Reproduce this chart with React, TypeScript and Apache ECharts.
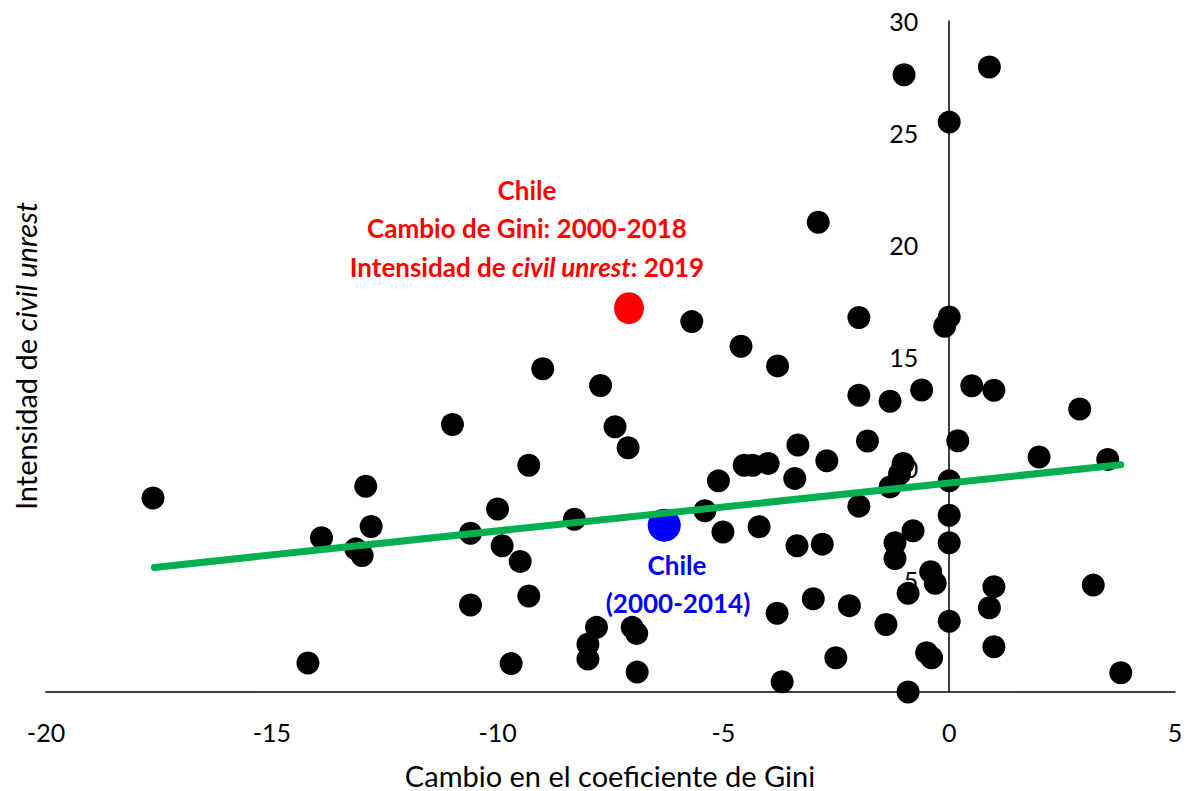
import React, { useEffect, useRef } from "react";
import * as echarts from "echarts";

const xTicks = [-20, -15, -10, -5, 0, 5];
const yTicks = [0, 5, 10, 15, 20, 25, 30];

const countriesX = [
  -17.63, -14.2, -13.9, -13.14, -13.0, -12.92, -12.8, -11.0, -10.6, -10.6,
  -10.0, -9.9, -9.7, -9.5, -9.31, -9.31, -9.0, -8.3, -8.0, -8.0,
  -7.81, -7.72, -7.4, -7.11, -7.02, -6.92, -6.91, -5.7, -5.41, -5.11,
  -5.01, -4.61, -4.54, -4.35, -4.21, -4.01, -3.81, -3.8, -3.7, -3.35,
  -3.42, -3.37, -3.01, -2.9, -2.81, -2.71, -2.51, -2.21, -2.0, -2.0,
  -2.0, -1.81, -1.4, -1.31, -1.31, -1.2, -1.2, -1.02, -1.1, -1.0,
  -0.91, -0.91, -0.8, -0.61, -0.5, -0.41, -0.39, -0.31, -0.1, 0.0,
  0.0, 0.0, 0.0, 0.0, 0.0, 0.19, 0.5, 0.89, 0.89, 0.99,
  0.99, 0.99, 1.99, 2.89, 3.19, 3.51, 3.8,
];
const countriesY = [
  8.67, 1.3, 6.9, 6.4, 6.1, 9.2, 7.4, 11.96, 7.1, 3.89,
  8.18, 6.54, 1.27, 5.84, 10.14, 4.29, 14.45, 7.72, 2.14, 1.47,
  2.89, 13.7, 11.86, 10.92, 2.89, 2.62, 0.89, 16.56, 8.1, 9.44,
  7.15, 15.46, 10.14, 10.14, 7.39, 10.22, 3.52, 14.58, 0.46, 11.04,
  9.55, 6.54, 4.17, 21.0, 6.61, 10.34, 1.53, 3.86, 16.74, 13.27,
  8.31, 11.22, 3.02, 13.0, 9.17, 6.67, 5.97, 10.22, 9.75, 27.6,
  4.41, 0.0, 7.21, 13.5, 1.76, 5.38, 1.53, 4.86, 16.35, 25.48,
  16.77, 9.44, 7.9, 6.67, 3.16, 11.23, 13.69, 27.94, 3.77, 13.49,
  4.71, 2.02, 10.51, 12.65, 4.78, 10.4, 0.86,
];

const chile2019 = [-7.09, 17.16];
const chile2014 = [-6.31, 7.46];

const trendX = [-17.6, 3.8];
const trendY = [5.57, 10.16];

const FONT = "Lato, 'Noto Sans', sans-serif";

const W = 1191;
const H = 791;
const GRID = { left: 46, right: 16, top: 21, bottom: 99 };

export default function App() {
  const ref = useRef<HTMLDivElement>(null);

  useEffect(() => {
    if (!ref.current) return;
    const chart = echarts.init(ref.current, undefined, { renderer: "svg" });
    const points = countriesX.map((x, i) => [x, countriesY[i]]);
    const trend = trendX.map((x, i) => [x, trendY[i]]);

    const xMin = xTicks[0];
    const xMax = xTicks[xTicks.length - 1];
    const gridW = W - GRID.left - GRID.right;
    // place the y axis where x = 0
    const yAxisOffset = -((0 - xMin) / (xMax - xMin)) * gridW;

    const bold = (color: string) => ({
      fontSize: 26,
      fontWeight: "bold",
      fontFamily: FONT,
      fill: color,
      align: "center",
      verticalAlign: "middle",
    });

    chart.setOption({
      animation: false,
      backgroundColor: "#ffffff",
      grid: { ...GRID, containLabel: false, outerBoundsMode: "none" },
      xAxis: {
        type: "value",
        min: xMin,
        max: xMax,
        interval: 5,
        axisLine: { show: true, onZero: true, lineStyle: { color: "#000", width: 1.5 } },
        axisTick: { show: false },
        splitLine: { show: false },
        axisLabel: { color: "#000", fontSize: 25, fontFamily: FONT, margin: 27 },
      },
      yAxis: {
        type: "value",
        position: "left",
        offset: yAxisOffset,
        min: yTicks[0],
        max: yTicks[yTicks.length - 1],
        interval: 5,
        axisLine: { show: true, onZero: false, lineStyle: { color: "#000", width: 1.5 } },
        axisTick: { show: false },
        splitLine: { show: false },
        axisLabel: {
          color: "#000",
          fontSize: 25,
          fontFamily: FONT,
          margin: 31,
          formatter: (v: number) => (v === 0 ? "" : String(v)),
        },
      },
      series: [
        {
          type: "scatter",
          data: points,
          symbol: "circle",
          symbolSize: 23,
          itemStyle: { color: "#000", opacity: 1 },
        },
        {
          type: "scatter",
          data: [chile2014],
          symbol: "circle",
          symbolSize: 33,
          itemStyle: { color: "#0000FF", opacity: 1 },
        },
        {
          type: "scatter",
          data: [chile2019],
          symbol: "circle",
          symbolSize: [30, 32],
          itemStyle: { color: "#FF0000", opacity: 1 },
        },
        {
          type: "line",
          data: trend,
          symbol: "none",
          lineStyle: { color: "#00B050", width: 7, cap: "round" },
        },
      ],
      graphic: [
        {
          type: "text",
          x: 25,
          y: 356,
          rotation: Math.PI / 2,
          style: {
            text: "Intensidad de {i|civil unrest}",
            fontSize: 29,
            fontFamily: FONT,
            fill: "#000",
            align: "center",
            verticalAlign: "middle",
            rich: { i: { fontStyle: "italic", fontSize: 29, fontFamily: FONT, fill: "#000" } },
          },
        },
        {
          type: "text",
          x: 610,
          y: 775,
          style: {
            text: "Cambio en el coeficiente de Gini",
            fontSize: 29,
            fontFamily: FONT,
            fill: "#000",
            align: "center",
            verticalAlign: "middle",
          },
        },
        { type: "text", x: 527, y: 190, style: { text: "Chile", ...bold("#FF0000") } },
        { type: "text", x: 527, y: 228, style: { text: "Cambio de Gini: 2000-2018", ...bold("#FF0000") } },
        {
          type: "text",
          x: 527,
          y: 267,
          style: {
            text: "Intensidad de {i|civil unrest}: 2019",
            ...bold("#FF0000"),
            rich: {
              i: { fontStyle: "italic", fontWeight: "bold", fontSize: 26, fontFamily: FONT, fill: "#FF0000" },
            },
          },
        },
        { type: "text", x: 677, y: 565, style: { text: "Chile", ...bold("#0000FF") } },
        { type: "text", x: 678, y: 603, style: { text: "(2000-2014)", ...bold("#0000FF") } },
      ],
    });
    return () => chart.dispose();
  }, []);

  return (
    <div
      ref={ref}
      style={{ position: "absolute", left: 0, top: 0, width: W, height: H }}
    />
  );
}
